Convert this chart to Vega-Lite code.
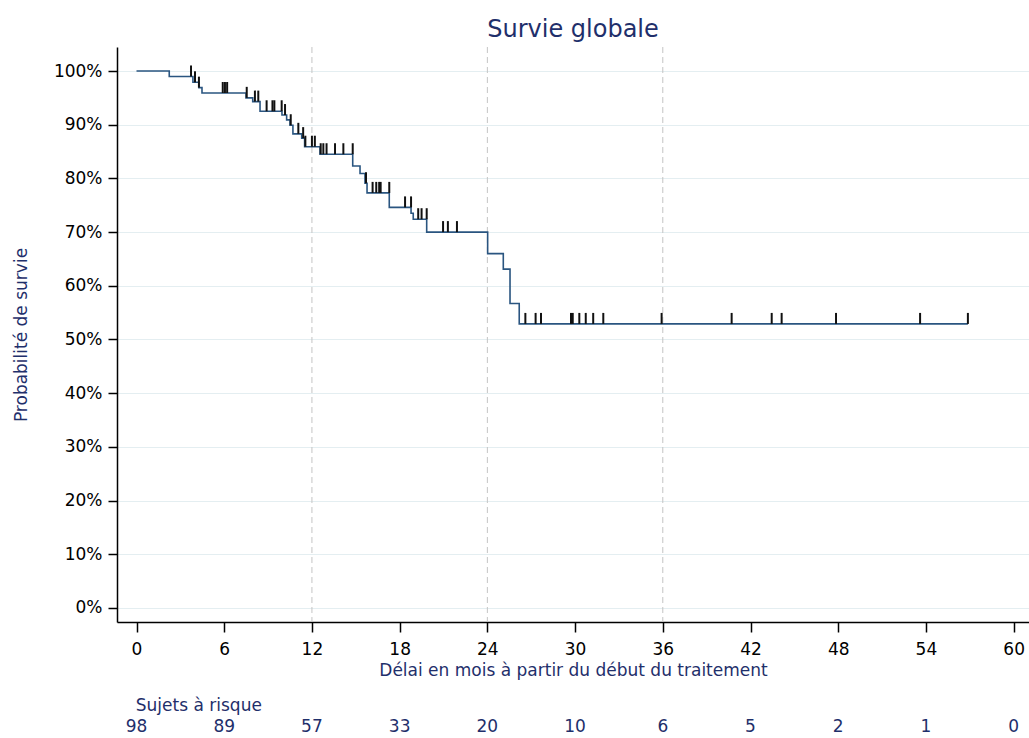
{
  "$schema": "https://vega.github.io/schema/vega-lite/v6.json",
  "width": 912,
  "height": 575,
  "autosize": {"type": "none"},
  "padding": {"left": 117, "top": 47, "right": 0, "bottom": 116},
  "background": "white",
  "config": {
    "view": {"stroke": null},
    "font": "DejaVu Sans"
  },
  "title": {
    "text": "Survie globale",
    "fontSize": 24,
    "fontWeight": "normal",
    "color": "#1f2f6b",
    "anchor": "middle",
    "offset": 5
  },
  "datasets": {
    "km": [
      {"t": 0, "s": 1.0},
      {"t": 2.24, "s": 0.9898},
      {"t": 3.86, "s": 0.979},
      {"t": 4.27, "s": 0.969},
      {"t": 4.48, "s": 0.959},
      {"t": 7.49, "s": 0.950},
      {"t": 7.95, "s": 0.943},
      {"t": 8.45, "s": 0.925},
      {"t": 9.95, "s": 0.918},
      {"t": 10.27, "s": 0.909},
      {"t": 10.5, "s": 0.899},
      {"t": 10.7, "s": 0.883},
      {"t": 11.3, "s": 0.875},
      {"t": 11.5, "s": 0.859},
      {"t": 12.55, "s": 0.845},
      {"t": 14.79, "s": 0.823},
      {"t": 15.29, "s": 0.809},
      {"t": 15.63, "s": 0.791},
      {"t": 15.77, "s": 0.773},
      {"t": 17.29, "s": 0.746},
      {"t": 18.78, "s": 0.735},
      {"t": 18.93, "s": 0.724},
      {"t": 19.85, "s": 0.700},
      {"t": 24.02, "s": 0.660},
      {"t": 25.09, "s": 0.631},
      {"t": 25.55, "s": 0.567},
      {"t": 26.18, "s": 0.529},
      {"t": 56.87, "s": 0.529}
    ],
    "cens": [
      {"t": 3.73, "s": 0.9898},
      {"t": 4.0, "s": 0.979},
      {"t": 4.27, "s": 0.969},
      {"t": 5.9, "s": 0.959},
      {"t": 6.05, "s": 0.959},
      {"t": 6.2, "s": 0.959},
      {"t": 7.54, "s": 0.950},
      {"t": 8.1, "s": 0.943},
      {"t": 8.33, "s": 0.943},
      {"t": 8.9, "s": 0.925},
      {"t": 9.3, "s": 0.925},
      {"t": 9.43, "s": 0.925},
      {"t": 9.93, "s": 0.925},
      {"t": 10.16, "s": 0.918},
      {"t": 10.55, "s": 0.899},
      {"t": 11.07, "s": 0.883},
      {"t": 11.4, "s": 0.875},
      {"t": 11.55, "s": 0.859},
      {"t": 12.0, "s": 0.859},
      {"t": 12.2, "s": 0.859},
      {"t": 12.6, "s": 0.845},
      {"t": 12.78, "s": 0.845},
      {"t": 13.0, "s": 0.845},
      {"t": 13.58, "s": 0.845},
      {"t": 14.15, "s": 0.845},
      {"t": 14.79, "s": 0.845},
      {"t": 15.7, "s": 0.791},
      {"t": 16.15, "s": 0.773},
      {"t": 16.4, "s": 0.773},
      {"t": 16.6, "s": 0.773},
      {"t": 16.7, "s": 0.773},
      {"t": 17.29, "s": 0.773},
      {"t": 18.37, "s": 0.746},
      {"t": 18.78, "s": 0.746},
      {"t": 19.27, "s": 0.724},
      {"t": 19.5, "s": 0.724},
      {"t": 19.85, "s": 0.724},
      {"t": 20.97, "s": 0.700},
      {"t": 21.3, "s": 0.700},
      {"t": 21.92, "s": 0.700},
      {"t": 26.6, "s": 0.529},
      {"t": 27.3, "s": 0.529},
      {"t": 27.67, "s": 0.529},
      {"t": 29.72, "s": 0.529},
      {"t": 29.84, "s": 0.529},
      {"t": 30.29, "s": 0.529},
      {"t": 30.73, "s": 0.529},
      {"t": 31.24, "s": 0.529},
      {"t": 31.93, "s": 0.529},
      {"t": 35.92, "s": 0.529},
      {"t": 40.71, "s": 0.529},
      {"t": 43.45, "s": 0.529},
      {"t": 44.13, "s": 0.529},
      {"t": 47.85, "s": 0.529},
      {"t": 53.6, "s": 0.529},
      {"t": 56.87, "s": 0.529}
    ],
    "refs": [{"t": 12}, {"t": 24}, {"t": 36}],
    "risk": [
      {"t": 0, "n": 98},
      {"t": 6, "n": 89},
      {"t": 12, "n": 57},
      {"t": 18, "n": 33},
      {"t": 24, "n": 20},
      {"t": 30, "n": 10},
      {"t": 36, "n": 6},
      {"t": 42, "n": 5},
      {"t": 48, "n": 2},
      {"t": 54, "n": 1},
      {"t": 60, "n": 0}
    ],
    "lab": [{"label": "Sujets à risque"}]
  },
  "layer": [
    {
      "data": {"name": "refs"},
      "mark": {"type": "rule", "color": "#c4c4c4", "strokeDash": [6, 4], "strokeWidth": 1},
      "encoding": {
        "x": {"field": "t", "type": "quantitative"}
      }
    },
    {
      "data": {"name": "km"},
      "mark": {"type": "line", "interpolate": "step-after", "color": "#2a5580", "strokeWidth": 1.6},
      "encoding": {
        "x": {
          "field": "t",
          "type": "quantitative",
          "scale": {"domain": [-1.334, 61.05], "nice": false, "zero": false},
          "axis": {
            "values": [0, 6, 12, 18, 24, 30, 36, 42, 48, 54, 60],
            "title": "Délai en mois à partir du début du traitement",
            "titleColor": "#1f2f6b",
            "titleFontSize": 17,
            "titleFontWeight": "normal",
            "titlePadding": 5,
            "labelFontSize": 17,
            "labelColor": "#000000",
            "labelPadding": 9,
            "labelFlush": false,
            "tickSize": 10,
            "tickColor": "#000000",
            "tickWidth": 1.5,
            "domainColor": "#000000",
            "domainWidth": 1.5,
            "grid": false
          }
        },
        "y": {
          "field": "s",
          "type": "quantitative",
          "scale": {"domain": [-0.0261, 1.0447], "nice": false, "zero": false},
          "axis": {
            "values": [0, 0.1, 0.2, 0.3, 0.4, 0.5, 0.6, 0.7, 0.8, 0.9, 1.0],
            "format": ".0%",
            "title": "Probabilité de survie",
            "titleColor": "#1f2f6b",
            "titleFontSize": 17,
            "titleFontWeight": "normal",
            "titlePadding": 23,
            "labelFontSize": 17,
            "labelColor": "#000000",
            "labelPadding": 6,
            "tickSize": 9,
            "tickColor": "#000000",
            "tickWidth": 1.5,
            "domainColor": "#000000",
            "domainWidth": 1.5,
            "grid": true,
            "gridColor": "#e4eef1",
            "gridWidth": 1
          }
        }
      }
    },
    {
      "data": {"name": "cens"},
      "mark": {"type": "point", "shape": "M0,0L0,-1", "size": 484, "filled": false, "stroke": "#111111", "strokeWidth": 2, "opacity": 1},
      "encoding": {
        "x": {"field": "t", "type": "quantitative"},
        "y": {"field": "s", "type": "quantitative"}
      }
    },
    {
      "data": {"name": "risk"},
      "mark": {"type": "text", "fontSize": 17, "color": "#1f2f6b", "align": "center", "baseline": "middle"},
      "encoding": {
        "x": {"field": "t", "type": "quantitative"},
        "y": {"datum": -0.2216},
        "text": {"field": "n", "type": "quantitative"}
      }
    },
    {
      "data": {"name": "lab"},
      "mark": {"type": "text", "fontSize": 17, "color": "#1f2f6b", "align": "left", "baseline": "middle"},
      "encoding": {
        "x": {"datum": -0.05},
        "y": {"datum": -0.1825},
        "text": {"field": "label", "type": "nominal"}
      }
    }
  ]
}
